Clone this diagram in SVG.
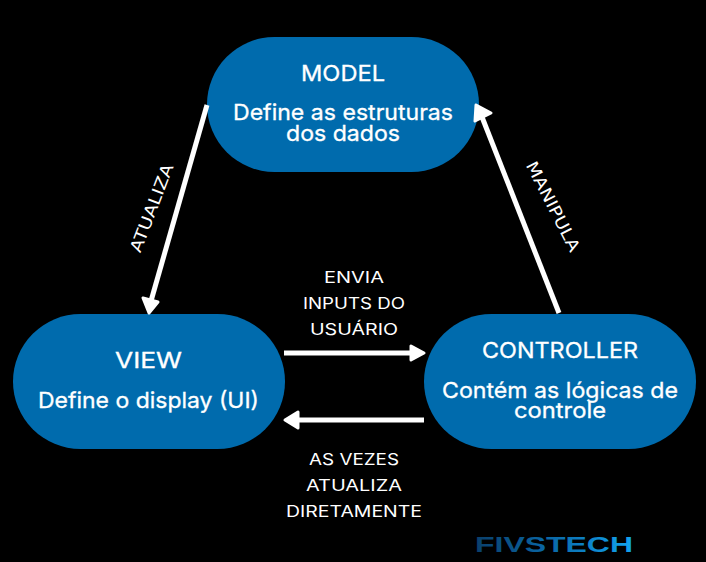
<svg xmlns="http://www.w3.org/2000/svg" width="706" height="562" viewBox="0 0 706 562">
<defs>
<linearGradient id="logo" gradientUnits="userSpaceOnUse" x1="476" y1="0" x2="633" y2="0"><stop offset="0" stop-color="#0a3f6b"/><stop offset="0.5" stop-color="#0a6bab"/><stop offset="1" stop-color="#12a4f0"/></linearGradient>
</defs>
<style>
.n{fill:#006bad}
.t{font-family:"Inter","Liberation Sans",Arial,sans-serif;font-size:22px;fill:#fff;stroke:#fff;stroke-width:.3;text-anchor:middle}
.l{font-family:"Inter","Liberation Sans",Arial,sans-serif;font-size:15.5px;fill:#fff;text-anchor:middle}
.r{font-family:"DejaVu Sans",sans-serif;font-size:16.5px;fill:#fff;text-anchor:middle}
.c{stroke:#fff;stroke-width:5;fill:none}
.h{fill:#fff;stroke:#fff;stroke-width:3;stroke-linejoin:round}
</style>
<rect width="706" height="562" fill="#000"/>
<g id="model"><rect class="n" x="207" y="37" width="272" height="135" rx="67.5"/>
<text class="t" x="343" y="81" textLength="84" lengthAdjust="spacingAndGlyphs">MODEL</text><text class="t" x="343" y="120" textLength="220" lengthAdjust="spacingAndGlyphs">Define as estruturas</text><text class="t" x="343" y="141" textLength="114" lengthAdjust="spacingAndGlyphs">dos dados</text></g>
<g id="view"><rect class="n" x="13" y="314" width="272" height="135" rx="67.5"/>
<text class="t" x="148.500" y="368" textLength="67" lengthAdjust="spacingAndGlyphs">VIEW</text><text class="t" x="148.500" y="408" textLength="221" lengthAdjust="spacingAndGlyphs">Define o display (UI)</text></g>
<g id="controller"><rect class="n" x="424" y="314" width="272" height="135" rx="67.5"/>
<text class="t" x="560" y="358" textLength="156" lengthAdjust="spacingAndGlyphs">CONTROLLER</text><text class="t" x="560" y="398" textLength="236" lengthAdjust="spacingAndGlyphs">Contém as lógicas de</text><text class="t" x="560" y="418" textLength="92" lengthAdjust="spacingAndGlyphs">controle</text></g>
<g id="connectors">
<path class="c" d="M207 105L151 301"/><path class="h" d="M149 313L143 298L158 302Z"/>
<path class="c" d="M559 313L482 117"/><path class="h" d="M476 105L491 113L475 121Z"/>
<path class="c" d="M284 353L414 353"/><path class="h" d="M424 353L411 346V360Z"/>
<path class="c" d="M424 420L295 420"/><path class="h" d="M285 420L298 412V428Z"/>
</g>
<g id="labels">
<text class="l" x="354" y="282.500" textLength="60" lengthAdjust="spacingAndGlyphs">ENVIA</text><text class="l" x="354" y="308.500" textLength="102" lengthAdjust="spacingAndGlyphs">INPUTS DO</text><text class="l" x="354" y="334.500" textLength="88" lengthAdjust="spacingAndGlyphs">USUÁRIO</text>
<text class="l" x="354" y="464.500" textLength="90" lengthAdjust="spacingAndGlyphs">AS VEZES</text><text class="l" x="354" y="490.500" textLength="96" lengthAdjust="spacingAndGlyphs">ATUALIZA</text><text class="l" x="354" y="516.500" textLength="136" lengthAdjust="spacingAndGlyphs">DIRETAMENTE</text>
<text class="r" transform="translate(157 210) rotate(-69)" textLength="93" lengthAdjust="spacingAndGlyphs">ATUALIZA</text>
<text class="r" transform="translate(548 209) rotate(63)" textLength="99" lengthAdjust="spacingAndGlyphs">MANIPULA</text>
</g>
<g id="logo-group"><text x="475" y="552" font-family="'Liberation Sans',Arial,sans-serif" font-weight="700" font-size="22" textLength="158" lengthAdjust="spacingAndGlyphs" fill="url(#logo)">FIVSTECH</text></g>
</svg>
